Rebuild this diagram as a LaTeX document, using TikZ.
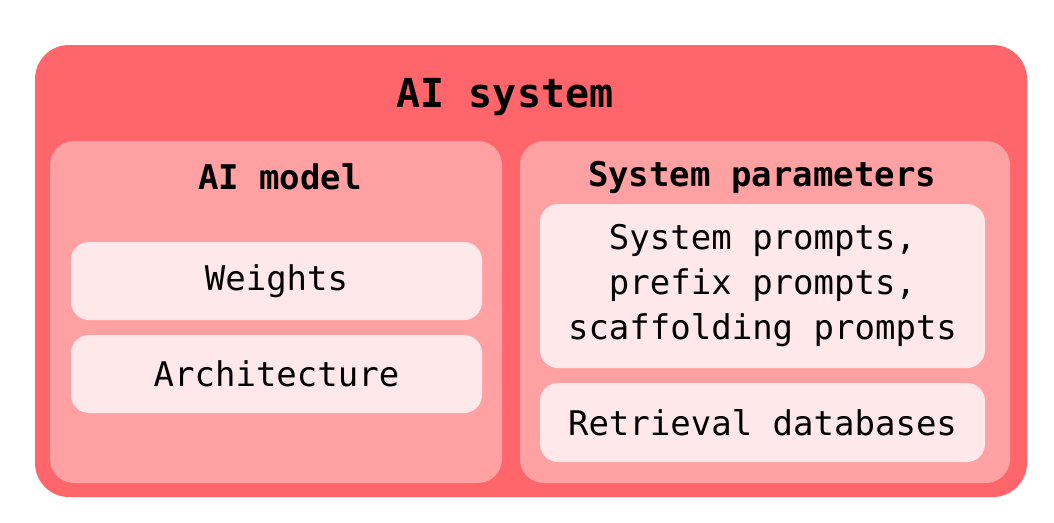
\documentclass[tikz,border=0pt]{standalone}
\usepackage{fontspec}
\setmonofont{DejaVu Sans Mono}
\definecolor{sysred}{RGB}{255,102,107}
\definecolor{panelred}{RGB}{255,160,163}
\definecolor{itempink}{RGB}{255,232,233}
\tikzset{
  sysbox/.style={rectangle,rounded corners=34pt,fill=sysred,minimum width=992pt,minimum height=452pt,inner sep=0pt},
  panelbox/.style={rectangle,rounded corners=24pt,fill=panelred,minimum height=342pt,inner sep=0pt},
  itembox/.style={rectangle,rounded corners=18pt,fill=itempink,align=center,inner sep=0pt,
    font=\ttfamily\fontsize{34}{45}\selectfont},
  heading/.style={font=\ttfamily\bfseries\fontsize{34}{40}\selectfont,inner sep=0pt}
}
\begin{document}
\begin{tikzpicture}[x=1pt,y=-1pt]
        \useasboundingbox (0,0) rectangle (1054,522);
        \begin{scope}

          \node (sys) at (531,271) [sysbox]{};
          \node (systitle) at (505,97) [heading,font=\ttfamily\bfseries\fontsize{40}{46}\selectfont]{AI system};

          \node (model) at (276,312) [panelbox,minimum width=452pt]{};
          \node (params) at (765,312) [panelbox,minimum width=490pt]{};
          \node (modeltitle) at (280,177) [heading]{AI model};
          \node (paramstitle) at (762,177) [heading]{System parameters};

          \node (weights) at (276.5,281) [itembox,minimum width=411pt,minimum height=78pt]{Weights};
          \node (arch) at (276.5,374) [itembox,minimum width=411pt,minimum height=78pt]{Architecture};
          \node (prompts) at (762.5,286) [itembox,minimum width=445pt,minimum height=164pt]{System prompts,\\prefix prompts,\\scaffolding prompts};
          \node (retrieval) at (762.5,422.5) [itembox,minimum width=445pt,minimum height=79pt]{Retrieval databases};

        \end{scope}
\end{tikzpicture}
\end{document}
